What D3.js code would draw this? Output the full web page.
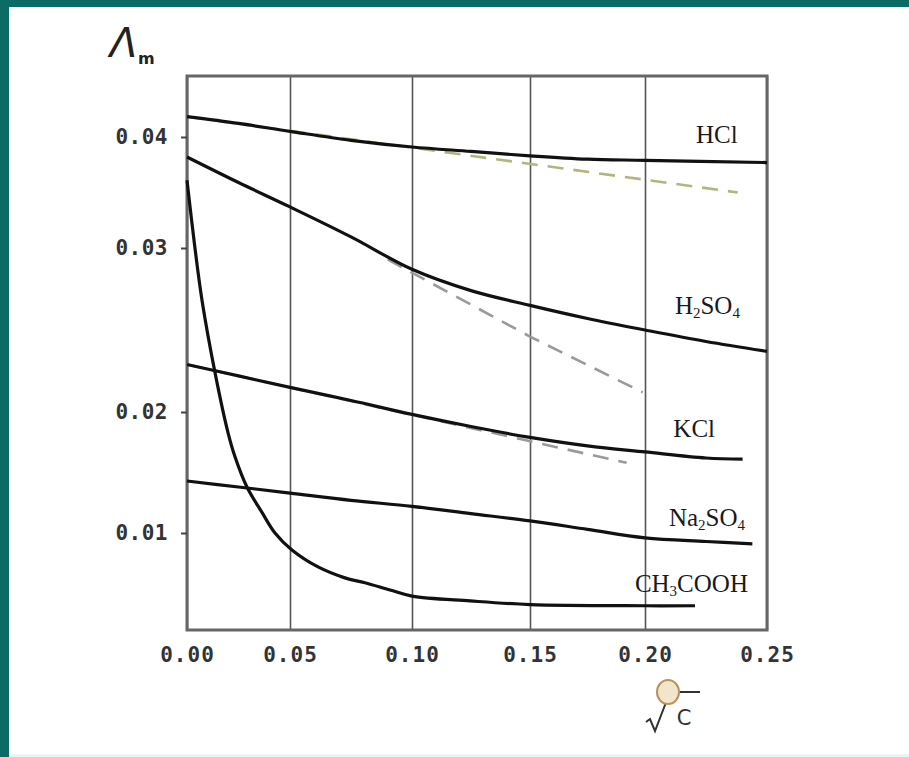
<!DOCTYPE html>
<html>
<head>
<meta charset="utf-8">
<script src="https://cdn.jsdelivr.net/npm/d3@7"></script>
<style>
  body { margin: 0; background: #fff; }
  svg { display: block; }
</style>
</head>
<body>
<svg id="chart" width="909" height="757"></svg>
<script>
// sqrt(c) ticks and molar conductivity ticks
var xTicks = [0, 0.05, 0.10, 0.15, 0.20, 0.25];
var yTicks = [0.01, 0.02, 0.03, 0.04];

// HCl
var hclX = [0, 0.025, 0.05, 0.075, 0.10, 0.125, 0.15, 0.175, 0.20, 0.25];
var hclY = [0.0418, 0.0412, 0.0405, 0.0397, 0.0391, 0.0387, 0.0383, 0.0380, 0.0379, 0.0377];
var hclLimX = [0, 0.238];
var hclLimY = [0.0418, 0.0350];

// H2SO4
var h2so4X = [0, 0.025, 0.05, 0.075, 0.10, 0.125, 0.15, 0.175, 0.20, 0.225, 0.25];
var h2so4Y = [0.0382, 0.0359, 0.0337, 0.0310, 0.0287, 0.0274, 0.0265, 0.0257, 0.0250, 0.0243, 0.0237];
var h2so4LimX = [0.09, 0.15, 0.199];
var h2so4LimY = [0.0293, 0.0246, 0.0212];

// KCl
var kclX = [0, 0.025, 0.05, 0.075, 0.10, 0.125, 0.15, 0.175, 0.20, 0.225, 0.24];
var kclY = [0.0229, 0.0222, 0.0215, 0.0207, 0.0198, 0.0188, 0.0179, 0.0172, 0.0167, 0.0162, 0.0161];
var kclLimX = [0, 0.192];
var kclLimY = [0.0229, 0.0158];

// Na2SO4
var na2so4X = [0, 0.025, 0.05, 0.075, 0.10, 0.125, 0.15, 0.175, 0.20, 0.225, 0.244];
var na2so4Y = [0.0143, 0.0138, 0.0133, 0.0127, 0.0122, 0.0116, 0.0110, 0.0103, 0.0096, 0.0093, 0.0091];

// CH3COOH
var aceticX = [0, 0.0034, 0.0073, 0.0136, 0.0199, 0.0233, 0.0291, 0.0364, 0.0427, 0.0508, 0.0615,
               0.0725, 0.0807, 0.091, 0.10, 0.1246, 0.15, 0.20, 0.2205];
var aceticY = [0.0361, 0.0307, 0.0268, 0.0224, 0.0183, 0.0163, 0.0138, 0.0117, 0.0100, 0.0086, 0.0072,
               0.0063, 0.0059, 0.0053, 0.0048, 0.0044, 0.0041, 0.0040, 0.0040];

var svg = d3.select("#chart");

// teal frame of the slide
svg.append("rect").attr("x", 0).attr("y", 0).attr("width", 909).attr("height", 7).attr("fill", "#0d6b66");
svg.append("rect").attr("x", 0).attr("y", 0).attr("width", 9).attr("height", 757).attr("fill", "#0d6b66");
svg.append("rect").attr("x", 9).attr("y", 754).attr("width", 900).attr("height", 3).attr("fill", "#e3f7f7");

// the photo is a bit warped, so the scales are piecewise
var x = d3.scaleLinear()
    .domain(xTicks)
    .range([187, 290, 412, 530, 645, 767]);

var y = d3.scaleLinear()
    .domain([0.002, 0.01, 0.02, 0.03, 0.04, 0.0454])
    .range([630, 533, 412, 248, 137, 76]);

var plotTop = y(0.0454), plotBottom = y(0.002);

// vertical grid
var grid = svg.append("g")
    .attr("transform", "translate(0," + plotBottom + ")")
    .call(d3.axisBottom(x).tickValues(xTicks).tickSize(-(plotBottom - plotTop)).tickFormat(""));
grid.select(".domain").remove();
grid.selectAll(".tick line").attr("stroke", "#555").attr("stroke-width", 1.6);

// frame
svg.append("rect")
    .attr("x", x(0)).attr("y", plotTop)
    .attr("width", x(0.25) - x(0)).attr("height", plotBottom - plotTop)
    .attr("fill", "none").attr("stroke", "#666").attr("stroke-width", 3);

var tickFont = "'DejaVu Sans Mono', monospace";

var xAxis = svg.append("g")
    .attr("transform", "translate(0," + plotBottom + ")")
    .call(d3.axisBottom(x).tickValues(xTicks).tickSize(0).tickPadding(17).tickFormat(d3.format(".2f")));
xAxis.select(".domain").remove();
xAxis.selectAll("text")
    .attr("font-family", tickFont).attr("font-size", 21).attr("font-weight", "bold")
    .attr("letter-spacing", 1).attr("fill", "#333");

var yAxis = svg.append("g")
    .attr("transform", "translate(" + x(0) + ",0)")
    .call(d3.axisLeft(y).tickValues(yTicks).tickSize(6).tickPadding(13).tickFormat(d3.format(".2f")));
yAxis.select(".domain").remove();
yAxis.selectAll(".tick line").attr("stroke", "#444").attr("stroke-width", 2);
yAxis.selectAll("text")
    .attr("font-family", tickFont).attr("font-size", 21).attr("font-weight", "bold")
    .attr("letter-spacing", 0.5).attr("fill", "#333");

function pts(xs, ys) {
    return xs.map(function(d, i) { return [d, ys[i]]; });
}

var line = d3.line()
    .x(function(d) { return x(d[0]); })
    .y(function(d) { return y(d[1]); })
    .curve(d3.curveCatmullRom.alpha(0.5));

var straight = d3.line()
    .x(function(d) { return x(d[0]); })
    .y(function(d) { return y(d[1]); });

// limiting law lines (dashed) go under the measured curves
var limits = [
    { data: pts(hclLimX, hclLimY), color: "#b3b57f" },
    { data: pts(h2so4LimX, h2so4LimY), color: "#9a9a9a" },
    { data: pts(kclLimX, kclLimY), color: "#9a9a9a" }
];

svg.selectAll(".limit")
    .data(limits)
    .enter().append("path")
    .attr("class", "limit")
    .attr("d", function(d) { return straight(d.data); })
    .attr("fill", "none")
    .attr("stroke", function(d) { return d.color; })
    .attr("stroke-width", 2.6)
    .attr("stroke-dasharray", "16,10");

var curves = [
    pts(hclX, hclY),
    pts(h2so4X, h2so4Y),
    pts(kclX, kclY),
    pts(na2so4X, na2so4Y),
    pts(aceticX, aceticY)
];

svg.selectAll(".curve")
    .data(curves)
    .enter().append("path")
    .attr("class", "curve")
    .attr("d", line)
    .attr("fill", "none")
    .attr("stroke", "#111")
    .attr("stroke-width", 3.2)
    .attr("stroke-linejoin", "round");

// curve names: [text, subscript?] pieces, anchored near the right end
var labels = [
    { parts: [["HCl", 0]], at: [0.238, 0.03946] },
    { parts: [["H", 0], ["2", 1], ["SO", 0], ["4", 1]], at: [0.2389, 0.0260] },
    { parts: [["KCl", 0]], at: [0.2287, 0.01793] },
    { parts: [["Na", 0], ["2", 1], ["SO", 0], ["4", 1]], at: [0.241, 0.01058] },
    { parts: [["CH", 0], ["3", 1], ["COOH", 0]], at: [0.2422, 0.00512] }
];

labels.forEach(function(l) {
    var t = svg.append("text")
        .attr("x", x(l.at[0]))
        .attr("y", y(l.at[1]))
        .attr("text-anchor", "end")
        .attr("font-family", "'Liberation Serif', serif")
        .attr("font-size", 25)
        .attr("fill", "#1a1a1a");
    l.parts.forEach(function(p, i) {
        var prevSub = i > 0 && l.parts[i - 1][1];
        var s = t.append("tspan").text(p[0]);
        if (p[1]) s.attr("font-size", 15).attr("dy", 4);
        else if (prevSub) s.attr("dy", -4);
    });
});

// y axis title: molar conductivity
svg.append("text")
    .attr("x", 110).attr("y", 57)
    .attr("font-family", "'DejaVu Sans', sans-serif")
    .attr("font-style", "italic")
    .attr("font-size", 40)
    .attr("fill", "#222")
    .text("Λ");
svg.append("text")
    .attr("x", 138).attr("y", 64)
    .attr("font-family", "'DejaVu Sans', sans-serif")
    .attr("font-weight", "bold")
    .attr("font-size", 16)
    .attr("fill", "#222")
    .text("m");

// x axis title: square root of c (with the pointer that sits on it)
var rad = d3.path();
rad.moveTo(646, 722);
rad.lineTo(650, 719);
rad.lineTo(655, 731);
rad.lineTo(670, 692);
rad.lineTo(700, 692);
svg.append("path")
    .attr("d", rad.toString())
    .attr("fill", "none")
    .attr("stroke", "#333")
    .attr("stroke-width", 2);
svg.append("text")
    .attr("x", 684).attr("y", 725)
    .attr("text-anchor", "middle")
    .attr("font-family", "'DejaVu Sans', sans-serif")
    .attr("font-size", 21)
    .attr("fill", "#333")
    .text("C");
svg.append("ellipse")
    .attr("cx", 668).attr("cy", 692)
    .attr("rx", 11).attr("ry", 12)
    .attr("fill", "#f1e6cc")
    .attr("stroke", "#b8925a")
    .attr("stroke-width", 2);
</script>
</body>
</html>
